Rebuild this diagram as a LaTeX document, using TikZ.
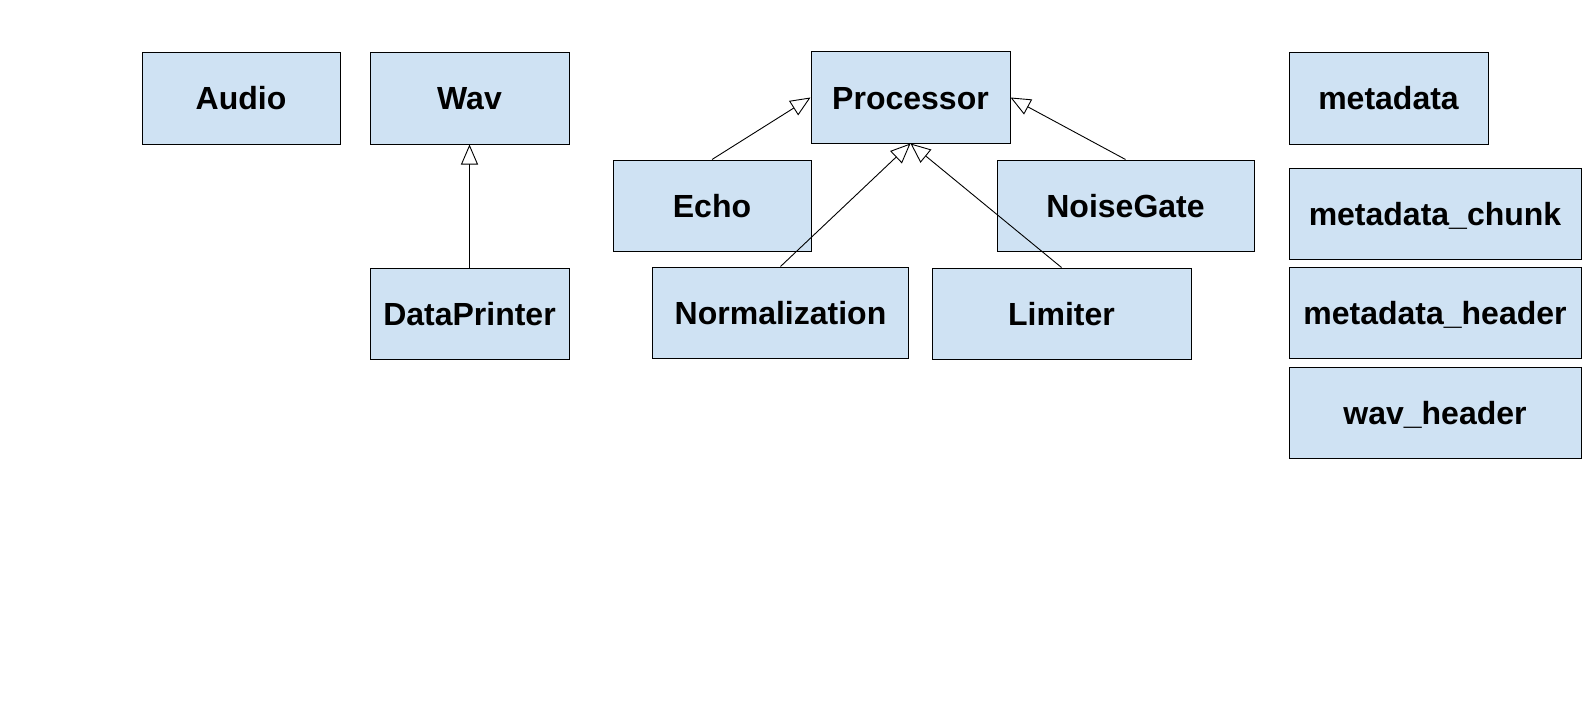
\documentclass[tikz,border=0pt]{standalone}
\usepackage{fontspec}
\setmainfont{Liberation Sans}
\usetikzlibrary{arrows.meta}
\definecolor{boxblue}{RGB}{207,226,243}
\tikzset{
  cls/.style={draw=black, line width=1pt, fill=boxblue, inner sep=0pt,
    minimum height=91pt, text=black, text height=23pt, text depth=0pt,
    font=\fontsize{32}{38}\selectfont\bfseries},
  inherit/.style={draw=black, line width=0.9pt,
    -{Triangle[length=20pt,width=17pt,fill=white]}}
}
\begin{document}
\begin{tikzpicture}[x=1pt,y=-1pt]
\useasboundingbox (0,0) rectangle (1582,709);
\node[cls, minimum width=198pt] (audio) at (241,98.5) {Audio};
\node[cls, minimum width=199pt] (wav) at (469.5,98.5) {Wav};
\node[cls, minimum width=199pt] (dataprinter) at (469.5,313.5) {DataPrinter};
\node[cls, minimum width=199pt] (processor) at (910.5,97.5) {Processor};
\node[cls, minimum width=198pt] (echo) at (712,205.5) {Echo};
\node[cls, minimum width=257pt] (noisegate) at (1125.5,205.5) {NoiseGate};
\node[cls, minimum width=256pt] (normalization) at (780.5,312.5) {Normalization};
\node[cls, minimum width=259pt] (limiter) at (1061.5,313.5) {Limiter};
\node[cls, minimum width=199pt] (metadata) at (1388.5,98.5) {metadata};
\node[cls, minimum width=292pt] (mchunk) at (1435,213.5) {metadata\_chunk};
\node[cls, minimum width=292pt] (mheader) at (1435,312.5) {metadata\_header};
\node[cls, minimum width=292pt] (wavheader) at (1435,412.5) {wav\_header};
\draw[inherit] (dataprinter.north) -- (wav.south);
\draw[inherit] (echo.north) -- (processor.west);
\draw[inherit] (noisegate.north) -- (processor.east);
\draw[inherit] (normalization.north) -- (processor.south);
\draw[inherit] (limiter.north) -- (processor.south);
\end{tikzpicture}
\end{document}
